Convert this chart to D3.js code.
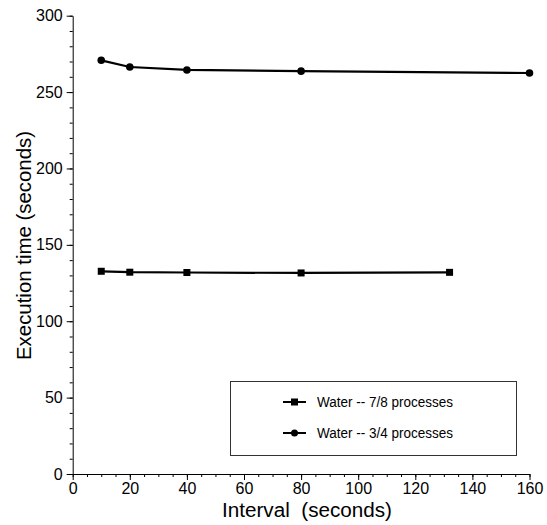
<!DOCTYPE html>
<html>
<head>
<meta charset="utf-8">
<script src="https://cdn.jsdelivr.net/npm/d3@7"></script>
<style>
  body { margin: 0; background: #fff; }
  text { font-family: "Liberation Sans", Arial, sans-serif; }
</style>
</head>
<body>
<svg id="chart" width="547" height="525"></svg>
<script>
// data
var intervals78 = [10, 20, 40, 80, 132];
var times78 = [132.7, 132.1, 131.9, 131.6, 132.0];
var intervals34 = [10, 20, 40, 80, 160];
var times34 = [270.8, 266.4, 264.5, 263.7, 262.5];
var xTicks = [0, 20, 40, 60, 80, 100, 120, 140, 160];
var yTicks = [0, 50, 100, 150, 200, 250, 300];
var seriesNames = ["Water -- 7/8 processes", "Water -- 3/4 processes"];

var svg = d3.select("#chart");

var x = d3.scaleLinear().domain([0, 160]).range([72.7, 529.5]);
var y = d3.scaleLinear().domain([0, 300]).range([474, 15.7]);

// minor ticks
svg.append("g")
  .attr("transform", "translate(0,474)")
  .call(d3.axisBottom(x).tickValues(d3.range(0, 161, 5)).tickSize(3).tickFormat(""))
  .call(g => g.select(".domain").remove());
svg.append("g")
  .attr("transform", "translate(72.7,0)")
  .call(d3.axisLeft(y).tickValues(d3.range(0, 301, 10)).tickSize(3).tickFormat(""))
  .call(g => g.select(".domain").remove());

// major axes
var xAxis = svg.append("g")
  .attr("transform", "translate(0,474)")
  .call(d3.axisBottom(x).tickValues(xTicks).tickSize(6).tickSizeOuter(0).tickPadding(3));
var yAxis = svg.append("g")
  .attr("transform", "translate(72.7,0)")
  .call(d3.axisLeft(y).tickValues(yTicks).tickSize(6).tickSizeOuter(0).tickPadding(4));

svg.selectAll(".tick line, .domain").attr("stroke", "#000").attr("stroke-width", 1);
xAxis.selectAll("text").attr("font-size", 16).attr("fill", "#000");
yAxis.selectAll("text").attr("font-size", 16).attr("fill", "#000");

// axis titles
svg.append("text")
  .attr("x", 307).attr("y", 517)
  .attr("text-anchor", "middle")
  .attr("font-size", 20)
  .attr("textLength", 170)
  .attr("lengthAdjust", "spacingAndGlyphs")
  .style("white-space", "pre")
  .text("Interval  (seconds)");
svg.append("text")
  .attr("transform", "translate(31,245.5) rotate(-90)")
  .attr("text-anchor", "middle")
  .attr("font-size", 21)
  .attr("textLength", 229)
  .attr("lengthAdjust", "spacingAndGlyphs")
  .text("Execution time (seconds)");

var line = d3.line().x(d => x(d[0])).y(d => y(d[1]));

var s78 = intervals78.map((v, i) => [v, times78[i]]);
var s34 = intervals34.map((v, i) => [v, times34[i]]);

svg.append("path").datum(s78).attr("d", line)
  .attr("fill", "none").attr("stroke", "#000").attr("stroke-width", 2.2);
svg.append("path").datum(s34).attr("d", line)
  .attr("fill", "none").attr("stroke", "#000").attr("stroke-width", 2.2);

svg.append("g").selectAll("rect").data(s78).enter().append("rect")
  .attr("x", d => x(d[0]) - 3.5).attr("y", d => y(d[1]) - 3.5)
  .attr("width", 7).attr("height", 7).attr("fill", "#000");
svg.append("g").selectAll("circle").data(s34).enter().append("circle")
  .attr("cx", d => x(d[0])).attr("cy", d => y(d[1]))
  .attr("r", 3.8).attr("fill", "#000");

// legend
var legend = svg.append("g");
legend.append("rect")
  .attr("x", 230.5).attr("y", 381.5).attr("width", 286).attr("height", 74)
  .attr("fill", "#fff").attr("stroke", "#333").attr("stroke-width", 1);

var rows = legend.selectAll("g.row").data(seriesNames).enter().append("g")
  .attr("transform", (d, i) => "translate(0," + (402 + i * 31) + ")");
rows.append("line")
  .attr("x1", 283).attr("x2", 306).attr("y1", 0).attr("y2", 0)
  .attr("stroke", "#000").attr("stroke-width", 2);
rows.filter((d, i) => i === 0).append("rect")
  .attr("x", 291).attr("y", -3.5).attr("width", 7).attr("height", 7).attr("fill", "#000");
rows.filter((d, i) => i === 1).append("circle")
  .attr("cx", 294.5).attr("cy", 0).attr("r", 3.5).attr("fill", "#000");
rows.append("text")
  .attr("x", 317).attr("y", 5)
  .attr("font-size", 14)
  .attr("textLength", 136)
  .attr("lengthAdjust", "spacingAndGlyphs")
  .text(d => d);
</script>
</body>
</html>
